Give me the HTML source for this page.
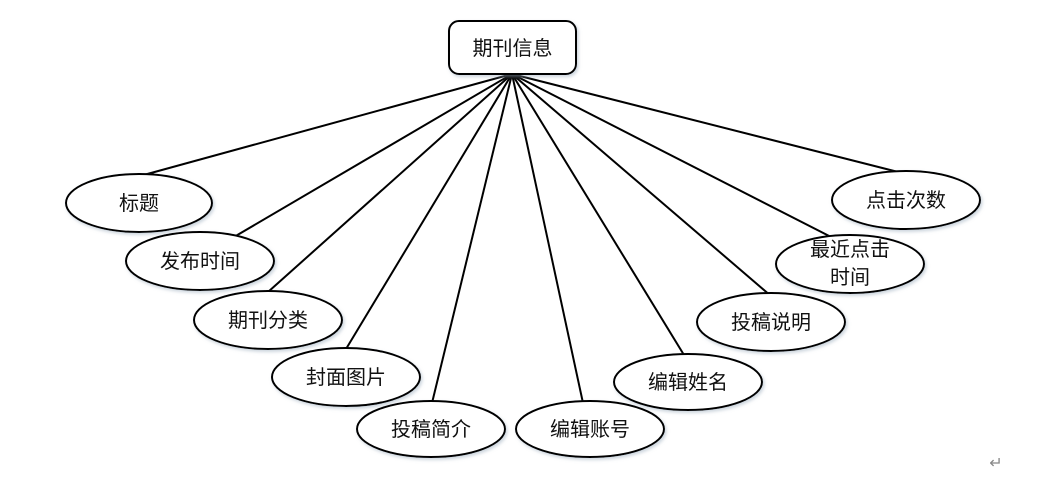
<!DOCTYPE html>
<html><head><meta charset="utf-8"><style>
body{margin:0;background:#fff;}
svg text{font-family:"Liberation Sans","Noto Sans CJK SC",sans-serif;font-size:20px;fill:#111;}
</style></head><body>
<svg width="1049" height="486" viewBox="0 0 1049 486" xmlns="http://www.w3.org/2000/svg">
<defs><filter id="s" x="-20%" y="-20%" width="140%" height="150%"><feDropShadow dx="1.5" dy="2" stdDeviation="1.5" flood-color="#9ab" flood-opacity="0.5"/></filter></defs>
<g stroke="#000" stroke-width="2">
<line x1="512" y1="74" x2="140" y2="176"/>
<line x1="512" y1="74" x2="222" y2="244"/>
<line x1="512" y1="74" x2="268" y2="292"/>
<line x1="512" y1="74" x2="346" y2="349"/>
<line x1="512" y1="74" x2="432" y2="403"/>
<line x1="512" y1="74" x2="583" y2="403"/>
<line x1="512" y1="74" x2="684" y2="355"/>
<line x1="512" y1="74" x2="771" y2="296"/>
<line x1="512" y1="74" x2="837" y2="240"/>
<line x1="512" y1="74" x2="910" y2="175"/>
</g>
<rect x="449" y="21" width="127" height="53" rx="10" fill="#fff" stroke="#000" stroke-width="2" filter="url(#s)"/>
<text x="512.5" y="55" text-anchor="middle">期刊信息</text>
<g fill="#fff" stroke="#000" stroke-width="2" filter="url(#s)">
<ellipse cx="139" cy="203" rx="73" ry="29"/>
<ellipse cx="200" cy="261" rx="74" ry="29"/>
<ellipse cx="268" cy="320" rx="74" ry="29"/>
<ellipse cx="346" cy="377" rx="74" ry="29"/>
<ellipse cx="431" cy="429" rx="74" ry="28"/>
<ellipse cx="590" cy="429" rx="74" ry="28"/>
<ellipse cx="688" cy="382" rx="74" ry="28"/>
<ellipse cx="771" cy="322" rx="74" ry="29"/>
<ellipse cx="850" cy="264" rx="74" ry="29"/>
<ellipse cx="906" cy="200" rx="74" ry="29"/>
</g>
<g text-anchor="middle">
<text x="139" y="210">标题</text>
<text x="200" y="268">发布时间</text>
<text x="268" y="327">期刊分类</text>
<text x="346" y="384">封面图片</text>
<text x="431" y="436">投稿简介</text>
<text x="590" y="436">编辑账号</text>
<text x="688" y="389">编辑姓名</text>
<text x="771" y="329">投稿说明</text>
<text x="850" y="256">最近点击</text>
<text x="850" y="284">时间</text>
<text x="906" y="207">点击次数</text>
</g>
<text x="996" y="468" text-anchor="middle" style="font-size:16px;fill:#888">↵</text>
</svg>
</body></html>
